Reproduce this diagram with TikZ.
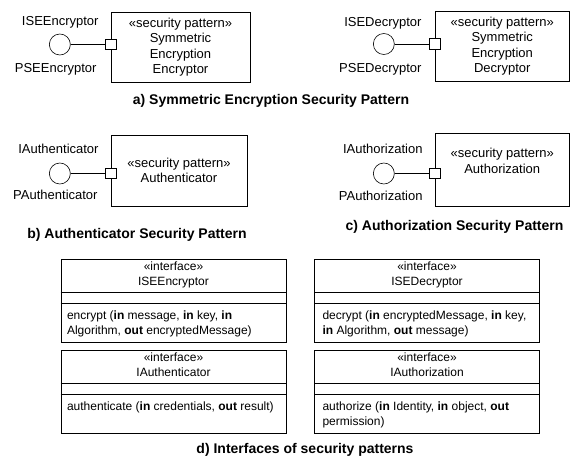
\documentclass[tikz,border=0pt]{standalone}
\usepackage{fontspec}
\setmainfont{Liberation Sans}
\usetikzlibrary{positioning}

\begin{document}
\begin{tikzpicture}[x=1pt,y=-1pt,line width=0.6pt,
    every node/.style={font=\fontsize{13}{15.5}\selectfont},
    pattern/.style={draw,align=center,inner sep=0pt},
    port/.style={draw,fill=white,minimum size=10.5pt,inner sep=0pt},
    provided/.style={draw,circle,minimum size=21pt,inner sep=0pt},
    portname/.style={anchor=east,inner sep=0pt},
    caption/.style={font=\fontsize{14}{16}\selectfont\bfseries},
    ifbox/.style={draw,minimum width=225pt,minimum height=83pt,inner sep=0pt},
    iftitle/.style={align=center,font=\fontsize{12}{14.5}\selectfont,inner sep=0pt},
    ifops/.style={align=left,anchor=north west,font=\fontsize{12}{14.5}\selectfont,inner sep=0pt}]
  \useasboundingbox (0,0) rectangle (571,468);

  % a) symmetric encryption
  \node[pattern,minimum width=139pt,minimum height=70pt] (encBox) at (180.5,47) {«security pattern»\\Symmetric\\Encryption\\Encryptor};
  \node[port] (encPort) at ([yshift=2.5pt]encBox.west) {};
  \node[provided,left=34.5pt of encPort] (encCirc) {};
  \node[portname] (encI) at ([xshift=39pt,yshift=22pt]encCirc.center) {ISEEncryptor};
  \node[portname] (encP) at ([xshift=37pt,yshift=-25pt]encCirc.center) {PSEEncryptor};
  \draw (encCirc) -- (encPort);

  \node[pattern,minimum width=134.5pt,minimum height=70pt] (decBox) at (502.25,46) {«security pattern»\\Symmetric\\Encryption\\Decryptor};
  \node[port] (decPort) at ([yshift=2pt]decBox.west) {};
  \node[provided,left=34.5pt of decPort] (decCirc) {};
  \node[portname] (decI) at ([xshift=38pt,yshift=21pt]decCirc.center) {ISEDecryptor};
  \node[portname] (decP) at ([xshift=38pt,yshift=-25pt]decCirc.center) {PSEDecryptor};
  \draw (decCirc) -- (decPort);

  \node[caption] (capA) at (271,101) {a) Symmetric Encryption Security Pattern};

  % b) authenticator
  \node[pattern,minimum width=136pt,minimum height=71pt] (authBox) at (179,170.5) {«security pattern»\\Authenticator};
  \node[port] (authPort) at ([yshift=-3pt]authBox.west) {};
  \node[provided,left=34.5pt of authPort] (authCirc) {};
  \node[portname] (authI) at ([xshift=39pt,yshift=25pt]authCirc.center) {IAuthenticator};
  \node[portname] (authP) at ([xshift=38pt,yshift=-21pt]authCirc.center) {PAuthenticator};
  \draw (authCirc) -- (authPort);

  \node[caption] (capB) at (137,235) {b) Authenticator Security Pattern};

  % c) authorization
  \node[pattern,minimum width=134.5pt,minimum height=73pt] (azBox) at (502.25,169.5) {«security pattern»\\Authorization\\[2pt]};
  \node[port] (azPort) at ([yshift=-4pt]azBox.west) {};
  \node[provided,left=34.5pt of azPort] (azCirc) {};
  \node[portname] (azI) at ([xshift=39pt,yshift=25pt]azCirc.center) {IAuthorization};
  \node[portname] (azP) at ([xshift=39pt,yshift=-22pt]azCirc.center) {PAuthorization};
  \draw (azCirc) -- (azPort);

  \node[caption] (capC) at (454.5,227) {c) Authorization Security Pattern};

  % d) interfaces
  \node[ifbox] (encIf) at (173.5,300.5) {};
  \node[iftitle,below=3pt of encIf.north] (encIfName) {«interface»\\ISEEncryptor};
  \draw ([yshift=-34pt]encIf.north west) -- ([yshift=-34pt]encIf.north east);
  \draw ([yshift=-44.5pt]encIf.north west) -- ([yshift=-44.5pt]encIf.north east);
  \node[ifops] (encIfOps) at ([xshift=6pt,yshift=-52pt]encIf.north west)
    {encrypt (\textbf{in} message, \textbf{in} key, \textbf{in}\\Algorithm, \textbf{out} encryptedMessage)};

  \node[ifbox] (decIf) at (427,300.5) {};
  \node[iftitle,below=3pt of decIf.north] (decIfName) {«interface»\\ISEDecryptor};
  \draw ([yshift=-34pt]decIf.north west) -- ([yshift=-34pt]decIf.north east);
  \draw ([yshift=-44.5pt]decIf.north west) -- ([yshift=-44.5pt]decIf.north east);
  \node[ifops] (decIfOps) at ([xshift=8pt,yshift=-52pt]decIf.north west)
    {decrypt (\textbf{in} encryptedMessage, \textbf{in} key,\\\textbf{in} Algorithm, \textbf{out} message)};

  \node[ifbox] (authIf) at (173.5,391.5) {};
  \node[iftitle,below=3pt of authIf.north] (authIfName) {«interface»\\IAuthenticator};
  \draw ([yshift=-34pt]authIf.north west) -- ([yshift=-34pt]authIf.north east);
  \draw ([yshift=-44.5pt]authIf.north west) -- ([yshift=-44.5pt]authIf.north east);
  \node[ifops] (authIfOps) at ([xshift=6pt,yshift=-52pt]authIf.north west)
    {authenticate (\textbf{in} credentials, \textbf{out} result)};

  \node[ifbox] (azIf) at (427,391.5) {};
  \node[iftitle,below=3pt of azIf.north] (azIfName) {«interface»\\IAuthorization};
  \draw ([yshift=-34pt]azIf.north west) -- ([yshift=-34pt]azIf.north east);
  \draw ([yshift=-44.5pt]azIf.north west) -- ([yshift=-44.5pt]azIf.north east);
  \node[ifops] (azIfOps) at ([xshift=8pt,yshift=-52pt]azIf.north west)
    {authorize (\textbf{in} Identity, \textbf{in} object, \textbf{out}\\permission)};

  \node[caption] (capD) at (305,450) {d) Interfaces of security patterns};
\end{tikzpicture}
\end{document}
